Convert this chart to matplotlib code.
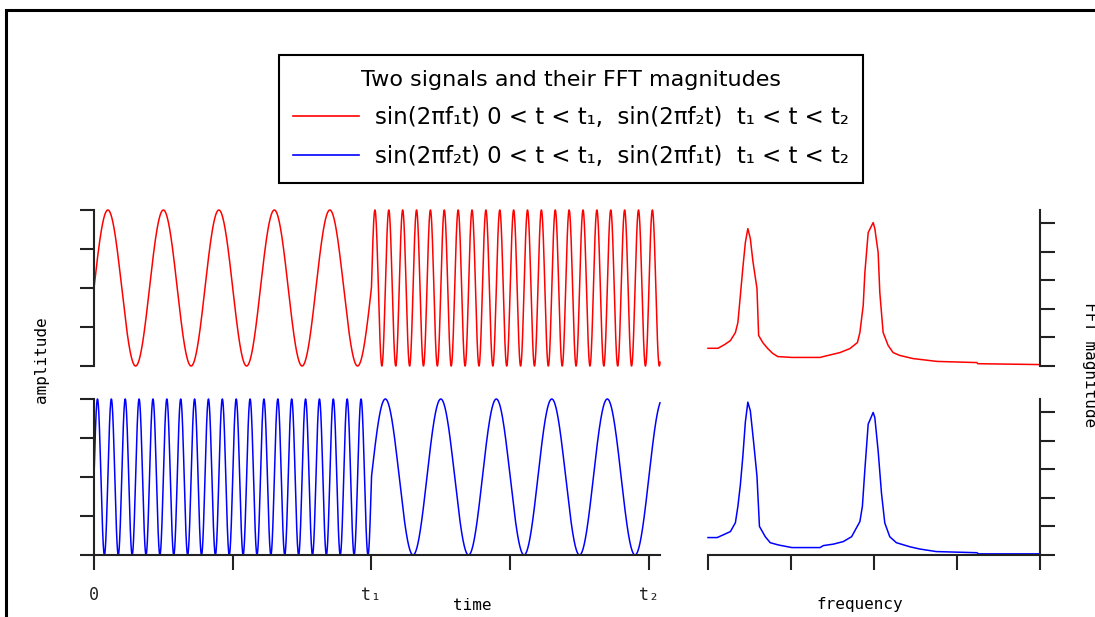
import numpy as np
import matplotlib

matplotlib.use("Agg")

import matplotlib.pyplot as plt
from matplotlib.lines import Line2D
from matplotlib.patches import Rectangle

# time axis in units of t1, signal made of two sine pieces
T1 = 1.0
T_END = 2.04
F1 = 5.0    # cycles per t1
F2 = 20.0   # cycles per t1
time_ticks = [0, 0.5, 1, 1.5, 2]
time_ticklabels = ["0", "", "t\u2081", "", "t\u2082"]

# FFT magnitudes (frequency in tick units 0..4)
red_freq = [0.0, 0.12, 0.20, 0.27, 0.33, 0.36, 0.39, 0.42, 0.45, 0.48, 0.51,
            0.54, 0.59, 0.61, 0.66, 0.72, 0.78, 0.84, 1.01, 1.35, 1.39, 1.49,
            1.59, 1.71, 1.80, 1.83, 1.87, 1.89, 1.93, 1.99, 2.01, 2.05, 2.07,
            2.11, 2.17, 2.23, 2.31, 2.47, 2.76, 3.24, 3.25, 4.0]
red_mag = [0.62, 0.62, 0.75, 0.89, 1.17, 1.52, 2.47, 3.44, 4.32, 4.81, 4.46,
           3.69, 2.71, 1.07, 0.82, 0.61, 0.44, 0.33, 0.30, 0.30, 0.33, 0.40,
           0.47, 0.61, 0.82, 1.17, 2.12, 3.27, 4.67, 5.02, 4.81, 3.97, 2.57,
           1.17, 0.72, 0.47, 0.37, 0.26, 0.16, 0.12, 0.08, 0.05]
blue_freq = [0.0, 0.11, 0.18, 0.27, 0.33, 0.36, 0.39, 0.42, 0.45, 0.48, 0.51,
             0.55, 0.59, 0.62, 0.69, 0.75, 0.85, 1.01, 1.35, 1.39, 1.51, 1.63,
             1.73, 1.83, 1.86, 1.89, 1.93, 1.99, 2.01, 2.05, 2.09, 2.13, 2.19,
             2.27, 2.43, 2.55, 2.75, 3.24, 3.26, 4.0]
blue_mag = [0.61, 0.61, 0.70, 0.82, 1.13, 1.70, 2.46, 3.46, 4.65, 5.35, 5.05,
            3.94, 2.76, 1.00, 0.64, 0.43, 0.35, 0.26, 0.26, 0.33, 0.38, 0.47,
            0.64, 1.17, 1.70, 2.99, 4.58, 4.99, 4.81, 3.64, 2.17, 1.12, 0.64,
            0.43, 0.29, 0.21, 0.12, 0.08, 0.04, 0.04]

RED = "#ff0000"
BLUE = "#0000ff"
AX = "#222222"
W, H = 1095, 617


def px_rect(x0, y0, x1, y1):
    return [x0 / W, 1 - y1 / H, (x1 - x0) / W, (y1 - y0) / H]


t = np.linspace(0, T_END, 6000)
first = t < T1
sig_red = np.where(first, np.sin(2 * np.pi * F1 * t), np.sin(2 * np.pi * F2 * t))
sig_blue = np.where(first, np.sin(2 * np.pi * F2 * t), np.sin(2 * np.pi * F1 * t))

fig = plt.figure(figsize=(W / 100, H / 100), dpi=100)

ax_tl = fig.add_axes(px_rect(94, 210, 660, 366))
ax_bl = fig.add_axes(px_rect(94, 399, 660, 555))
ax_tr = fig.add_axes(px_rect(708, 210, 1040, 366))
ax_br = fig.add_axes(px_rect(708, 399, 1040, 555))

for ax in (ax_tl, ax_bl, ax_tr, ax_br):
    for s in ax.spines.values():
        s.set_visible(False)
        s.set_linewidth(1.5)
        s.set_color(AX)
    ax.tick_params(colors=AX, width=1.5)
    ax.patch.set_alpha(0)

ax_tl.plot(t, sig_red, color=RED, lw=1.1, clip_on=False)
ax_bl.plot(t, sig_blue, color=BLUE, lw=1.1, clip_on=False)
for ax in (ax_tl, ax_bl):
    ax.set_xlim(0, T_END)
    ax.set_ylim(-1, 1)
    ax.spines["left"].set_visible(True)
    ax.set_yticks([-1, -0.5, 0, 0.5, 1])
    ax.set_yticklabels([])
    ax.tick_params(axis="y", direction="out", length=10)
ax_tl.set_xticks([])
ax_bl.spines["bottom"].set_visible(True)
ax_bl.set_xticks(time_ticks)
ax_bl.set_xticklabels(time_ticklabels, family="DejaVu Sans Mono", fontsize=12)
ax_bl.tick_params(axis="x", direction="out", length=11, pad=11)

ax_tr.plot(red_freq, red_mag, color=RED, lw=1.1, clip_on=False)
ax_br.plot(blue_freq, blue_mag, color=BLUE, lw=1.1, clip_on=False)
for ax in (ax_tr, ax_br):
    ax.set_xlim(0, 4)
    ax.set_ylim(0, 5.46)
    ax.spines["right"].set_visible(True)
    ax.yaxis.tick_right()
    ax.set_yticks(range(6))
    ax.set_yticklabels([])
    ax.tick_params(axis="y", direction="out", length=11)
ax_tr.set_xticks([])
ax_br.spines["bottom"].set_visible(True)
ax_br.set_xticks(range(5))
ax_br.set_xticklabels([])
ax_br.tick_params(axis="x", direction="out", length=11)

lab = dict(family="DejaVu Sans Mono", fontsize=11.5, color="black")
fig.text(42 / W, 1 - 360 / H, "amplitude", rotation=90, ha="center", va="center", **lab)
fig.text(472 / W, 1 - 605 / H, "time", ha="center", va="center", **lab)
fig.text(860 / W, 1 - 605 / H, "frequency", ha="center", va="center", **lab)
fig.text(1089 / W, 1 - 365 / H, "FFT magnitude", rotation=270, ha="center", va="center", **lab)

handles = [Line2D([], [], color=RED, lw=1.2), Line2D([], [], color=BLUE, lw=1.2)]
labels = ["sin(2\u03c0f\u2081t) 0 < t < t\u2081,  sin(2\u03c0f\u2082t)  t\u2081 < t < t\u2082",
          "sin(2\u03c0f\u2082t) 0 < t < t\u2081,  sin(2\u03c0f\u2081t)  t\u2081 < t < t\u2082"]
leg = fig.legend(handles, labels, title="Two signals and their FFT magnitudes",
                 loc="center", bbox_to_anchor=(571 / W, 1 - 119 / H),
                 fancybox=False, framealpha=1, edgecolor="black", fontsize=16.5,
                 title_fontsize=16, handlelength=2.9, handletextpad=0.7,
                 borderpad=0.62, labelspacing=0.72, borderaxespad=0)
leg.get_frame().set_linewidth(1.5)

# outer frame of the screenshot
fig.add_artist(Rectangle((6 / W, -0.2), 1.5, 1.2 - 10 / H, transform=fig.transFigure,
                         fill=False, lw=2.2, edgecolor="black"))

fig.savefig("out.png", dpi=100)
